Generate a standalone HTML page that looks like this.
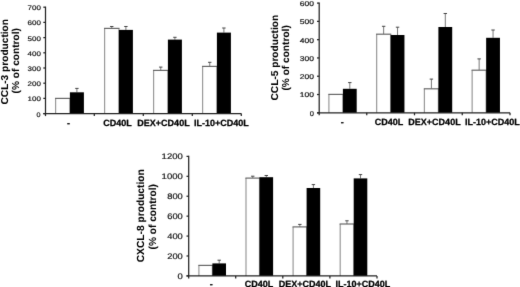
<!DOCTYPE html>
<html><head><meta charset="utf-8"><style>
html,body{margin:0;padding:0;background:#fff;}
body{width:520px;height:287px;overflow:hidden;}
svg{display:block;}
text{font-family:"Liberation Sans", sans-serif;text-rendering:geometricPrecision;}
.tl{fill:#111;stroke:#111;stroke-width:0.18px;}
.xl{fill:#000;font-weight:bold;stroke:#000;stroke-width:0.25px;}
.tt{fill:#000;font-weight:bold;stroke:#000;stroke-width:0.05px;}
.a{stroke:#222;stroke-width:1.25;fill:none;}
.e{stroke:#777;stroke-width:1;fill:none;}
.ec{stroke:#444;stroke-width:1;fill:none;}
.wv{fill:none;stroke:#999;stroke-width:1.2;}
.wh{fill:none;stroke:#666;stroke-width:1.2;}
.b{fill:#000;}
</style></head><body>
<svg width="520" height="287" viewBox="0 0 520 287">
<defs><filter id="bl" filterUnits="userSpaceOnUse" x="0" y="0" width="520" height="287" color-interpolation-filters="sRGB"><feConvolveMatrix order="3" kernelMatrix="1 10.0 1 10.0 100.0 10.0 1 10.0 1" edgeMode="duplicate"/></filter></defs>
<g filter="url(#bl)">
<rect width="520" height="287" fill="#fff"/>
<line x1="76.9" y1="92.3" x2="76.9" y2="88.4" class="e"/>
<line x1="75.2" y1="88.4" x2="78.6" y2="88.4" class="ec"/>
<rect x="55.6" y="98.4" width="14.3" height="15.2" fill="#fff"/>
<path d="M55.6 113.6V98.4M69.9 98.4V113.6" class="wv"/>
<path d="M55 98.4H70.5" class="wh"/>
<rect x="69.9" y="92.3" width="14" height="21.3" class="b"/>
<line x1="111.75" y1="28.4" x2="111.75" y2="26.5" class="e"/>
<line x1="110.05" y1="26.5" x2="113.45" y2="26.5" class="ec"/>
<line x1="125.9" y1="29.9" x2="125.9" y2="26.5" class="e"/>
<line x1="124.2" y1="26.5" x2="127.6" y2="26.5" class="ec"/>
<rect x="104.6" y="28.4" width="14.3" height="85.2" fill="#fff"/>
<path d="M104.6 113.6V28.4M118.9 28.4V113.6" class="wv"/>
<path d="M104 28.4H119.5" class="wh"/>
<rect x="118.9" y="29.9" width="14" height="83.7" class="b"/>
<line x1="160.75" y1="70.4" x2="160.75" y2="67.1" class="e"/>
<line x1="159.05" y1="67.1" x2="162.45" y2="67.1" class="ec"/>
<line x1="174.9" y1="39.6" x2="174.9" y2="37.3" class="e"/>
<line x1="173.2" y1="37.3" x2="176.6" y2="37.3" class="ec"/>
<rect x="153.6" y="70.4" width="14.3" height="43.2" fill="#fff"/>
<path d="M153.6 113.6V70.4M167.9 70.4V113.6" class="wv"/>
<path d="M153 70.4H168.5" class="wh"/>
<rect x="167.9" y="39.6" width="14" height="74" class="b"/>
<line x1="209.75" y1="66.4" x2="209.75" y2="62.3" class="e"/>
<line x1="208.05" y1="62.3" x2="211.45" y2="62.3" class="ec"/>
<line x1="223.9" y1="32.6" x2="223.9" y2="28" class="e"/>
<line x1="222.2" y1="28" x2="225.6" y2="28" class="ec"/>
<rect x="202.6" y="66.4" width="14.3" height="47.2" fill="#fff"/>
<path d="M202.6 113.6V66.4M216.9 66.4V113.6" class="wv"/>
<path d="M202 66.4H217.5" class="wh"/>
<rect x="216.9" y="32.6" width="14" height="81" class="b"/>
<line x1="45.5" y1="6.6" x2="45.5" y2="116.1" class="a"/>
<line x1="43.3" y1="113.6" x2="241.3" y2="113.6" class="a"/>
<line x1="43.3" y1="113.6" x2="45.5" y2="113.6" class="a"/>
<text x="40.4" y="117.26" class="tl" font-size="6.6" text-anchor="end" textLength="4" lengthAdjust="spacingAndGlyphs">0</text>
<line x1="43.3" y1="98.4" x2="45.5" y2="98.4" class="a"/>
<text x="40.9" y="101.36" class="tl" font-size="6.6" text-anchor="end" textLength="13.4" lengthAdjust="spacingAndGlyphs">100</text>
<line x1="43.3" y1="83.2" x2="45.5" y2="83.2" class="a"/>
<text x="40.9" y="86.16" class="tl" font-size="6.6" text-anchor="end" textLength="13.4" lengthAdjust="spacingAndGlyphs">200</text>
<line x1="43.3" y1="68" x2="45.5" y2="68" class="a"/>
<text x="40.9" y="70.96" class="tl" font-size="6.6" text-anchor="end" textLength="13.4" lengthAdjust="spacingAndGlyphs">300</text>
<line x1="43.3" y1="52.8" x2="45.5" y2="52.8" class="a"/>
<text x="40.9" y="55.76" class="tl" font-size="6.6" text-anchor="end" textLength="13.4" lengthAdjust="spacingAndGlyphs">400</text>
<line x1="43.3" y1="37.6" x2="45.5" y2="37.6" class="a"/>
<text x="40.9" y="40.56" class="tl" font-size="6.6" text-anchor="end" textLength="13.4" lengthAdjust="spacingAndGlyphs">500</text>
<line x1="43.3" y1="22.4" x2="45.5" y2="22.4" class="a"/>
<text x="40.9" y="25.36" class="tl" font-size="6.6" text-anchor="end" textLength="13.4" lengthAdjust="spacingAndGlyphs">600</text>
<line x1="43.3" y1="7.2" x2="45.5" y2="7.2" class="a"/>
<text x="40.9" y="10.16" class="tl" font-size="6.6" text-anchor="end" textLength="13.4" lengthAdjust="spacingAndGlyphs">700</text>
<line x1="94.3" y1="113.6" x2="94.3" y2="116.1" class="a"/>
<line x1="143.3" y1="113.6" x2="143.3" y2="116.1" class="a"/>
<line x1="192.3" y1="113.6" x2="192.3" y2="116.1" class="a"/>
<line x1="241.3" y1="113.6" x2="241.3" y2="116.1" class="a"/>
<text x="68.4" y="125.7" class="xl" font-size="9" text-anchor="middle">-</text>
<text x="117.5" y="125.7" class="xl" font-size="9" text-anchor="middle">CD40L</text>
<text x="163.5" y="125.7" class="xl" font-size="9" text-anchor="middle">DEX+CD40L</text>
<text x="221.3" y="125.7" class="xl" font-size="9" text-anchor="middle">IL-10+CD40L</text>
<text transform="translate(7.8,61.8) rotate(-90)" class="tt" font-size="10" text-anchor="middle" textLength="85.6" lengthAdjust="spacingAndGlyphs">CCL-3 production</text>
<text transform="translate(19,60.75) rotate(-90)" class="tt" font-size="10" text-anchor="middle" textLength="65.3" lengthAdjust="spacingAndGlyphs">(% of control)</text>
<line x1="349.8" y1="88.8" x2="349.8" y2="82.6" class="e"/>
<line x1="348.1" y1="82.6" x2="351.5" y2="82.6" class="ec"/>
<rect x="328.9" y="94.4" width="14" height="18.4" fill="#fff"/>
<path d="M328.9 112.8V94.4M342.9 94.4V112.8" class="wv"/>
<path d="M328.3 94.4H343.5" class="wh"/>
<rect x="342.9" y="88.8" width="13.8" height="24" class="b"/>
<line x1="383.65" y1="34.2" x2="383.65" y2="26.3" class="e"/>
<line x1="381.95" y1="26.3" x2="385.35" y2="26.3" class="ec"/>
<line x1="397.55" y1="35" x2="397.55" y2="27.2" class="e"/>
<line x1="395.85" y1="27.2" x2="399.25" y2="27.2" class="ec"/>
<rect x="376.65" y="34.2" width="14" height="78.6" fill="#fff"/>
<path d="M376.65 112.8V34.2M390.65 34.2V112.8" class="wv"/>
<path d="M376.05 34.2H391.25" class="wh"/>
<rect x="390.65" y="35" width="13.8" height="77.8" class="b"/>
<line x1="431.4" y1="88.8" x2="431.4" y2="79.1" class="e"/>
<line x1="429.7" y1="79.1" x2="433.1" y2="79.1" class="ec"/>
<line x1="445.3" y1="27" x2="445.3" y2="13.5" class="e"/>
<line x1="443.6" y1="13.5" x2="447" y2="13.5" class="ec"/>
<rect x="424.4" y="88.8" width="14" height="24" fill="#fff"/>
<path d="M424.4 112.8V88.8M438.4 88.8V112.8" class="wv"/>
<path d="M423.8 88.8H439" class="wh"/>
<rect x="438.4" y="27" width="13.8" height="85.8" class="b"/>
<line x1="479.15" y1="70.2" x2="479.15" y2="58.9" class="e"/>
<line x1="477.45" y1="58.9" x2="480.85" y2="58.9" class="ec"/>
<line x1="493.05" y1="37.8" x2="493.05" y2="30" class="e"/>
<line x1="491.35" y1="30" x2="494.75" y2="30" class="ec"/>
<rect x="472.15" y="70.2" width="14" height="42.6" fill="#fff"/>
<path d="M472.15 112.8V70.2M486.15 70.2V112.8" class="wv"/>
<path d="M471.55 70.2H486.75" class="wh"/>
<rect x="486.15" y="37.8" width="13.8" height="75" class="b"/>
<line x1="319.2" y1="2.5" x2="319.2" y2="115.3" class="a"/>
<line x1="317" y1="112.8" x2="510" y2="112.8" class="a"/>
<line x1="317" y1="112.8" x2="319.2" y2="112.8" class="a"/>
<text x="314" y="115.63" class="tl" font-size="6.8" text-anchor="end" textLength="4.2" lengthAdjust="spacingAndGlyphs">0</text>
<line x1="317" y1="94.52" x2="319.2" y2="94.52" class="a"/>
<text x="314" y="97.35" class="tl" font-size="6.8" text-anchor="end" textLength="14.2" lengthAdjust="spacingAndGlyphs">100</text>
<line x1="317" y1="76.23" x2="319.2" y2="76.23" class="a"/>
<text x="314" y="79.07" class="tl" font-size="6.8" text-anchor="end" textLength="14.2" lengthAdjust="spacingAndGlyphs">200</text>
<line x1="317" y1="57.95" x2="319.2" y2="57.95" class="a"/>
<text x="314" y="60.78" class="tl" font-size="6.8" text-anchor="end" textLength="14.2" lengthAdjust="spacingAndGlyphs">300</text>
<line x1="317" y1="39.67" x2="319.2" y2="39.67" class="a"/>
<text x="314" y="42.5" class="tl" font-size="6.8" text-anchor="end" textLength="14.2" lengthAdjust="spacingAndGlyphs">400</text>
<line x1="317" y1="21.38" x2="319.2" y2="21.38" class="a"/>
<text x="314" y="24.22" class="tl" font-size="6.8" text-anchor="end" textLength="14.2" lengthAdjust="spacingAndGlyphs">500</text>
<line x1="317" y1="3.1" x2="319.2" y2="3.1" class="a"/>
<text x="314" y="5.93" class="tl" font-size="6.8" text-anchor="end" textLength="14.2" lengthAdjust="spacingAndGlyphs">600</text>
<line x1="366.75" y1="112.8" x2="366.75" y2="115.3" class="a"/>
<line x1="414.5" y1="112.8" x2="414.5" y2="115.3" class="a"/>
<line x1="462.25" y1="112.8" x2="462.25" y2="115.3" class="a"/>
<line x1="510" y1="112.8" x2="510" y2="115.3" class="a"/>
<text x="342.2" y="124.7" class="xl" font-size="9" text-anchor="middle">-</text>
<text x="388.9" y="124.7" class="xl" font-size="9" text-anchor="middle">CD40L</text>
<text x="434.5" y="124.7" class="xl" font-size="9" text-anchor="middle">DEX+CD40L</text>
<text x="492.3" y="124.7" class="xl" font-size="9" text-anchor="middle">IL-10+CD40L</text>
<text transform="translate(277.9,57.65) rotate(-90)" class="tt" font-size="10" text-anchor="middle" textLength="85.6" lengthAdjust="spacingAndGlyphs">CCL-5 production</text>
<text transform="translate(288.7,57.9) rotate(-90)" class="tt" font-size="10" text-anchor="middle" textLength="65.3" lengthAdjust="spacingAndGlyphs">(% of control)</text>
<line x1="219.2" y1="263.4" x2="219.2" y2="260.2" class="e"/>
<line x1="217.5" y1="260.2" x2="220.9" y2="260.2" class="ec"/>
<rect x="198.9" y="265.4" width="13.5" height="10.5" fill="#fff"/>
<path d="M198.9 275.9V265.4M212.4 265.4V275.9" class="wv"/>
<path d="M198.3 265.4H213" class="wh"/>
<rect x="212.4" y="263.4" width="13.6" height="12.5" class="b"/>
<line x1="252.75" y1="178.1" x2="252.75" y2="176.2" class="e"/>
<line x1="251.05" y1="176.2" x2="254.45" y2="176.2" class="ec"/>
<line x1="266.3" y1="177.2" x2="266.3" y2="175.5" class="e"/>
<line x1="264.6" y1="175.5" x2="268" y2="175.5" class="ec"/>
<rect x="246" y="178.1" width="13.5" height="97.8" fill="#fff"/>
<path d="M246 275.9V178.1M259.5 178.1V275.9" class="wv"/>
<path d="M245.4 178.1H260.1" class="wh"/>
<rect x="259.5" y="177.2" width="13.6" height="98.7" class="b"/>
<line x1="299.85" y1="226.9" x2="299.85" y2="224.4" class="e"/>
<line x1="298.15" y1="224.4" x2="301.55" y2="224.4" class="ec"/>
<line x1="313.4" y1="188" x2="313.4" y2="184.6" class="e"/>
<line x1="311.7" y1="184.6" x2="315.1" y2="184.6" class="ec"/>
<rect x="293.1" y="226.9" width="13.5" height="49" fill="#fff"/>
<path d="M293.1 275.9V226.9M306.6 226.9V275.9" class="wv"/>
<path d="M292.5 226.9H307.2" class="wh"/>
<rect x="306.6" y="188" width="13.6" height="87.9" class="b"/>
<line x1="346.95" y1="224" x2="346.95" y2="220.8" class="e"/>
<line x1="345.25" y1="220.8" x2="348.65" y2="220.8" class="ec"/>
<line x1="360.5" y1="178.4" x2="360.5" y2="174.6" class="e"/>
<line x1="358.8" y1="174.6" x2="362.2" y2="174.6" class="ec"/>
<rect x="340.2" y="224" width="13.5" height="51.9" fill="#fff"/>
<path d="M340.2 275.9V224M353.7 224V275.9" class="wv"/>
<path d="M339.6 224H354.3" class="wh"/>
<rect x="353.7" y="178.4" width="13.6" height="97.5" class="b"/>
<line x1="188.7" y1="155.8" x2="188.7" y2="278.4" class="a"/>
<line x1="186.5" y1="275.9" x2="377" y2="275.9" class="a"/>
<line x1="186.5" y1="275.9" x2="188.7" y2="275.9" class="a"/>
<text x="182.8" y="278.66" class="tl" font-size="8.0" text-anchor="end" textLength="5.3" lengthAdjust="spacingAndGlyphs">0</text>
<line x1="186.5" y1="255.98" x2="188.7" y2="255.98" class="a"/>
<text x="182.8" y="258.75" class="tl" font-size="8.0" text-anchor="end" textLength="15.6" lengthAdjust="spacingAndGlyphs">200</text>
<line x1="186.5" y1="236.07" x2="188.7" y2="236.07" class="a"/>
<text x="182.8" y="238.83" class="tl" font-size="8.0" text-anchor="end" textLength="15.6" lengthAdjust="spacingAndGlyphs">400</text>
<line x1="186.5" y1="216.15" x2="188.7" y2="216.15" class="a"/>
<text x="182.8" y="218.91" class="tl" font-size="8.0" text-anchor="end" textLength="15.6" lengthAdjust="spacingAndGlyphs">600</text>
<line x1="186.5" y1="196.23" x2="188.7" y2="196.23" class="a"/>
<text x="182.8" y="199" class="tl" font-size="8.0" text-anchor="end" textLength="15.6" lengthAdjust="spacingAndGlyphs">800</text>
<line x1="186.5" y1="176.32" x2="188.7" y2="176.32" class="a"/>
<text x="182.8" y="179.08" class="tl" font-size="8.0" text-anchor="end" textLength="21.2" lengthAdjust="spacingAndGlyphs">1000</text>
<line x1="186.5" y1="156.4" x2="188.7" y2="156.4" class="a"/>
<text x="182.8" y="159.16" class="tl" font-size="8.0" text-anchor="end" textLength="21.2" lengthAdjust="spacingAndGlyphs">1200</text>
<line x1="235.7" y1="275.9" x2="235.7" y2="278.4" class="a"/>
<line x1="282.8" y1="275.9" x2="282.8" y2="278.4" class="a"/>
<line x1="329.9" y1="275.9" x2="329.9" y2="278.4" class="a"/>
<line x1="377" y1="275.9" x2="377" y2="278.4" class="a"/>
<text x="211.2" y="286.6" class="xl" font-size="9" text-anchor="middle">-</text>
<text x="258.9" y="286.6" class="xl" font-size="9" text-anchor="middle">CD40L</text>
<text x="304.8" y="286.6" class="xl" font-size="9" text-anchor="middle">DEX+CD40L</text>
<text x="362.8" y="286.6" class="xl" font-size="9" text-anchor="middle">IL-10+CD40L</text>
<text transform="translate(144,215.75) rotate(-90)" class="tt" font-size="10.3" text-anchor="middle" textLength="93" lengthAdjust="spacingAndGlyphs">CXCL-8 production</text>
<text transform="translate(155.8,216.75) rotate(-90)" class="tt" font-size="10.3" text-anchor="middle" textLength="65.3" lengthAdjust="spacingAndGlyphs">(% of control)</text>
</g>
</svg>
</body></html>
